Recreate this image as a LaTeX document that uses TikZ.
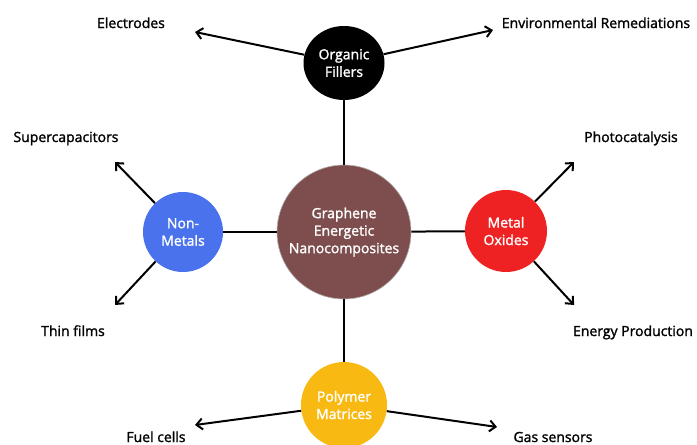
\documentclass[tikz,border=0pt]{standalone}
\usepackage{fontspec}
\setmainfont{Open Sans}[FakeBold=1.6]
\usetikzlibrary{arrows.meta,shapes.geometric}
\definecolor{cbrown}{HTML}{7E4E4E}
\definecolor{cblue}{HTML}{4A72EC}
\definecolor{cred}{HTML}{EE2222}
\definecolor{cyel}{HTML}{F8BA12}
\begin{document}
\begin{tikzpicture}[x=1pt,y=-1pt,
  hub/.style={circle,inner sep=0pt,text=white,align=center,font=\fontsize{14}{17.5}\selectfont},
  lbl/.style={font=\fontsize{14}{16}\selectfont,inner sep=0pt,anchor=base},
  link/.style={line width=2pt},
  arr/.style={line width=2pt,-{Straight Barb[length=6pt,width=11pt,line width=2pt]}}]
\useasboundingbox (0,0) rectangle (697,445);
% hubs
\node[hub,fill=cbrown,draw=gray!60,line width=0.6pt,minimum size=134pt] (c) at (344,232) {Graphene\\Energetic\\Nanocomposites};
\node[hub,ellipse,fill=black,minimum width=81pt,minimum height=74pt] (org) at (344,63) {Organic\\Fillers};
\node[hub,fill=cblue,minimum size=80pt] (non) at (183,232) {Non-\\Metals};
\node[hub,fill=cred,minimum size=82pt] (met) at (506,231) {Metal\\Oxides};
\node[hub,fill=cyel,minimum size=86pt] (pol) at (344,405) {Polymer\\Matrices};
% links
\draw[link] (c) -- (org);
\draw[link] (c) -- (non);
\draw[link] (c) -- (met);
\draw[link] (c) -- (pol);
% labels
\node[lbl] (lE) at (131,28) {Electrodes};
\node[lbl] (lR) at (596,28) {Environmental Remediations};
\node[lbl] (lS) at (66,142) {Supercapacitors};
\node[lbl] (lP) at (631,142) {Photocatalysis};
\node[lbl] (lT) at (73,336) {Thin films};
\node[lbl] (lEP) at (633,336) {Energy Production};
\node[lbl] (lF) at (156,442) {Fuel cells};
\node[lbl] (lG) at (553,442) {Gas sensors};
% arrow tips
\coordinate (tE) at (195,32);
\coordinate (tR) at (493,30);
\coordinate (tS) at (115,162);
\coordinate (tT) at (115,305);
\coordinate (tP) at (574,162);
\coordinate (tEP) at (574,305);
\coordinate (tF) at (195,425);
\coordinate (tG) at (497,427);
\draw[arr] (org) -- (tE);
\draw[arr] (org) -- (tR);
\draw[arr] (non) -- (tS);
\draw[arr] (non) -- (tT);
\draw[arr] (met) -- (tP);
\draw[arr] (met) -- (tEP);
\draw[arr] (pol) -- (tF);
\draw[arr] (pol) -- (tG);
\end{tikzpicture}
\end{document}
